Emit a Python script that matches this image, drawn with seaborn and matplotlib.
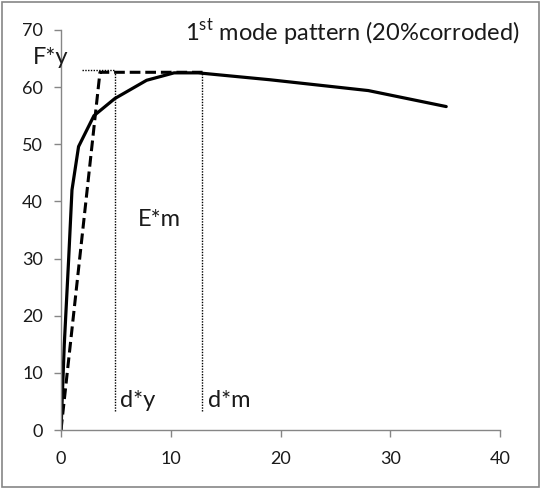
import matplotlib
matplotlib.use("Agg")
import matplotlib.pyplot as plt
from matplotlib.patches import Rectangle
import seaborn as sns
import pandas as pd

# Capacity (pushover) curve: displacement vs. base shear
disp = [0.0, 0.3, 0.7, 1.0, 1.6, 3.0, 4.9, 7.8, 10.3, 12.5, 19.0, 28.0, 35.1]
force = [0.0, 15.0, 30.0, 42.0, 49.6, 55.0, 58.0, 61.2, 62.5, 62.5, 61.3, 59.4, 56.6]

# Idealised elasto-perfectly-plastic bilinear curve
bil_disp = [0.0, 3.55, 12.9]
bil_force = [0.0, 62.6, 62.6]

# Characteristic quantities
Fy = 63.0
dy = 4.92
dm = 12.87
Fm = 62.5
guide_bottom = 3.4

sns.set_theme(style="white")
plt.rcParams["font.family"] = ["Lato", "DejaVu Sans"]

fig = plt.figure(figsize=(5.41, 4.90), dpi=100)
ax = fig.add_axes([61 / 541, 1 - 430 / 490, 439 / 541, 400 / 490])

curve = pd.DataFrame({"d": disp, "F": force})
bil = pd.DataFrame({"d": bil_disp, "F": bil_force})

sns.lineplot(data=bil, x="d", y="F", sort=False, ax=ax, color="black",
             lw=2.2, linestyle=(0, (3.5, 1.6)))
sns.lineplot(data=curve, x="d", y="F", sort=False, ax=ax, color="black", lw=2.3)

dot_style = dict(color="black", lw=1.0, linestyle=(0, (1, 1)))
ax.plot([1.9, dy], [Fy, Fy], **dot_style)
ax.plot([dy, dy], [guide_bottom, Fy], **dot_style)
ax.plot([dm, dm], [guide_bottom, Fm], **dot_style)

tfs = 13
afs = 17
txt = "#1a1a1a"
ax.text(-2.6, 65.2, "F*y", fontsize=afs, ha="left", va="center", color=txt)
ax.text(7.0, 36.8, "E*m", fontsize=afs, ha="left", va="center", color=txt)
ax.text(5.35, 5.2, "d*y", fontsize=afs, ha="left", va="center", color=txt)
ax.text(13.4, 5.2, "d*m", fontsize=afs, ha="left", va="center", color=txt)
ax.text(41.8, 69.6, r"1$^{\mathregular{st}}$ mode pattern (20%corroded)",
        fontsize=afs, ha="right", va="center", color=txt)

ax.set_xlim(0, 40)
ax.set_ylim(0, 70)
ax.set_xticks([0, 10, 20, 30, 40])
ax.set_yticks([0, 10, 20, 30, 40, 50, 60, 70])
ax.set_xlabel("")
ax.set_ylabel("")
for s in ["top", "right"]:
    ax.spines[s].set_visible(False)
for s in ["left", "bottom"]:
    ax.spines[s].set_color("#868686")
    ax.spines[s].set_linewidth(1.0)
ax.tick_params(axis="both", which="major", direction="out", length=5,
               width=1.0, color="#868686", labelsize=tfs, labelcolor=txt)
ax.tick_params(axis="x", bottom=True, pad=10)
ax.tick_params(axis="y", left=True, pad=8)
ax.patch.set_alpha(0)

fig.patches.append(Rectangle((2 / 541, 3 / 490), 537 / 541, 485 / 490,
                             transform=fig.transFigure, fill=False,
                             edgecolor="#868686", lw=1.2))

fig.savefig("out.png", dpi=100)
